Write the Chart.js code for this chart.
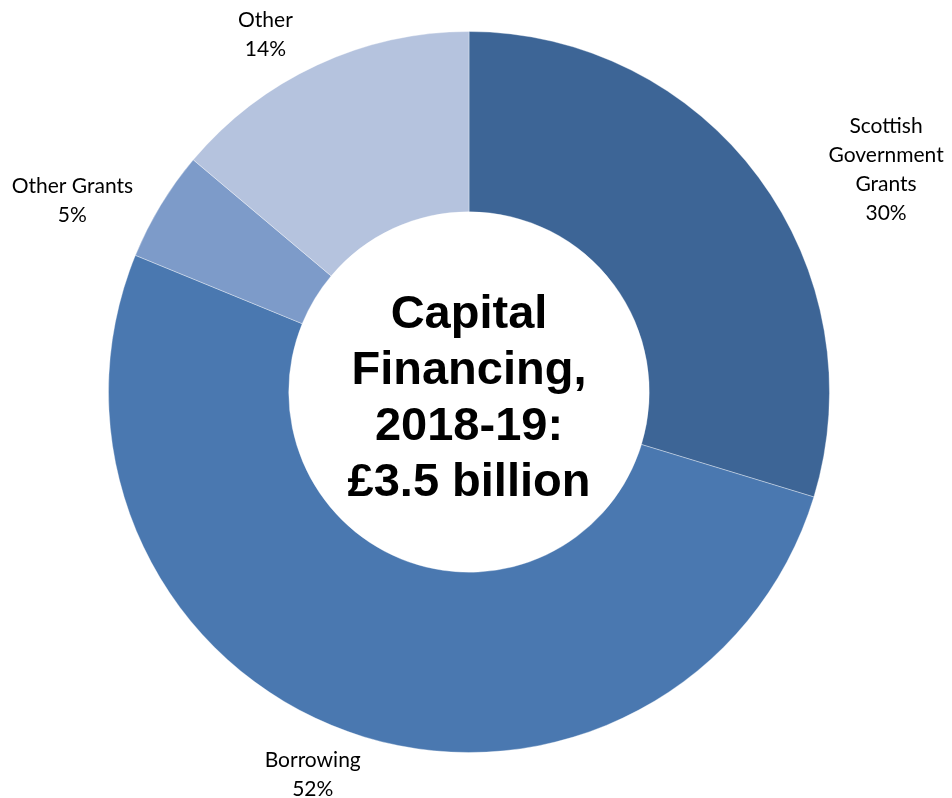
<!DOCTYPE html>
<html>
<head>
<meta charset="utf-8">
<script src="https://cdn.jsdelivr.net/npm/chart.js@4.4.1/dist/chart.umd.min.js"></script>
<style>
  html, body { margin: 0; padding: 0; background: #fff; }
  #wrap { width: 952px; height: 798px; }
</style>
</head>
<body>
<div id="wrap"><canvas id="capital"></canvas></div>
<script>
// Capital financing sources, 2018-19 (per cent of £3.5bn)
const categories = [['Scottish', 'Government', 'Grants'], ['Borrowing'], ['Other Grants'], ['Other']];
const shares = [30, 52, 5, 14];
const sliceColors = ['#3d6596', '#4a78b0', '#7d9bc9', '#b5c3de'];
const centreTitle = ['Capital', 'Financing,', '2018-19:', '£3.5 billion'];

// label placement: extra distance past the outer edge and an angle nudge (degrees)
const labelPlacement = [
  { extra: 112, nudge: 8.5 },
  { extra: 53, nudge: 2.6 },
  { extra: 80, nudge: -5.4 },
  { extra: 51, nudge: -4.7 }
];

const outsideLabels = {
  id: 'outsideLabels',
  afterDatasetsDraw(chart) {
    const ctx = chart.ctx;
    const arcs = chart.getDatasetMeta(0).data;
    ctx.save();
    ctx.fillStyle = '#000';
    ctx.font = '21px Lato, "Open Sans", sans-serif';
    ctx.textAlign = 'center';
    ctx.textBaseline = 'middle';
    arcs.forEach((arc, i) => {
      const p = labelPlacement[i];
      const mid = (arc.startAngle + arc.endAngle) / 2 + p.nudge * Math.PI / 180;
      const r = arc.outerRadius + p.extra;
      const cx = arc.x + Math.cos(mid) * r;
      const cy = arc.y + Math.sin(mid) * r;
      const lines = categories[i].concat([shares[i] + '%']);
      const lh = 29;
      const top = cy - (lines.length - 1) * lh / 2;
      lines.forEach((t, k) => ctx.fillText(t, cx, top + k * lh));
    });
    ctx.restore();
  }
};

const centreText = {
  id: 'centreText',
  afterDatasetsDraw(chart) {
    const ctx = chart.ctx;
    const arc = chart.getDatasetMeta(0).data[0];
    ctx.save();
    ctx.fillStyle = '#000';
    ctx.font = 'bold 47px "Liberation Sans", Arial, sans-serif';
    ctx.textAlign = 'center';
    ctx.textBaseline = 'middle';
    const lh = 56;
    const top = arc.y + 7 - (centreTitle.length - 1) * lh / 2;
    centreTitle.forEach((t, k) => ctx.fillText(t, arc.x, top + k * lh));
    ctx.restore();
  }
};

new Chart(document.getElementById('capital').getContext('2d'), {
  type: 'doughnut',
  data: {
    labels: categories.map(c => c.join(' ')),
    datasets: [{
      data: shares,
      backgroundColor: sliceColors,
      borderColor: 'rgba(255, 255, 255, 0.35)',
      borderWidth: 1
    }]
  },
  options: {
    responsive: true,
    maintainAspectRatio: false,
    animation: false,
    cutout: '50%',
    layout: { padding: { left: 0, right: 14, top: 31, bottom: 45 } },
    plugins: {
      legend: { display: false },
      tooltip: { enabled: false }
    }
  },
  plugins: [outsideLabels, centreText]
});
</script>
</body>
</html>
